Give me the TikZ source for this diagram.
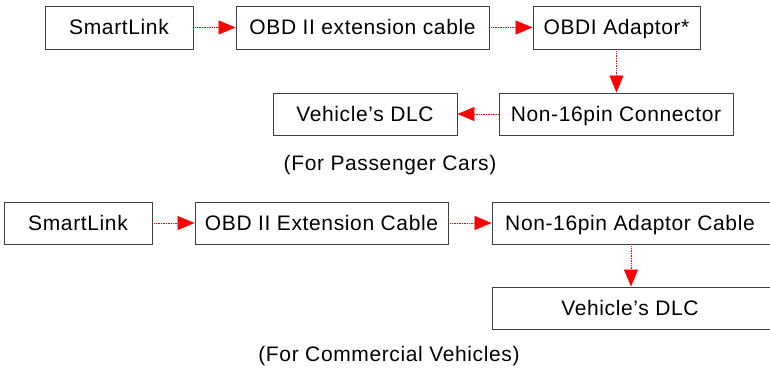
\documentclass[tikz,border=0pt]{standalone}
\usepackage{fontspec}
\setmainfont{Liberation Sans}[LetterSpace=3]
\usetikzlibrary{arrows.meta,positioning}
\tikzset{
  box/.style={draw=black!75, line width=0.9pt, minimum height=43pt, inner sep=0pt,
    text height=15pt, text depth=0pt, font=\fontsize{21}{25}\selectfont},
  link/.style={red, densely dotted, line width=0.7pt, -{Triangle[length=17pt,width=14pt]}},
  caption/.style={font=\fontsize{21}{25}\selectfont},
}
\begin{document}
\begin{tikzpicture}[x=1pt,y=-1pt]
    \useasboundingbox (0,0) rectangle (770,371);

    % ----- Passenger cars
    \node[box, minimum width=148pt] (smartA) at (119,27.5) {SmartLink};
    \node[box, minimum width=253pt] (extA) at (362.5,27.5) {OBD II extension cable};
    \node[box, minimum width=167pt] (adaptA) at (616.5,27.5) {OBDI Adaptor*};
    \node[box, minimum width=234pt, minimum height=42pt] (connA) at (616,114) {Non-16pin Connector};
    \node[box, minimum width=184pt, minimum height=42pt] (dlcA) at (365,114) {Vehicle's DLC};
    \node[caption] (captA) at (390,165) {(For Passenger Cars)};

    \draw[link] (smartA) -- (extA);
    \draw[link] (extA) -- (adaptA);
    \draw[link] (adaptA) -- (adaptA |- connA.north);
    \draw[link] (connA) -- (dlcA);

    % ----- Commercial vehicles
    \node[box, minimum width=148pt, minimum height=42pt] (smartB) at (78,223) {SmartLink};
    \node[box, minimum width=253pt, minimum height=42pt] (extB) at (321.5,223) {OBD II Extension Cable};
    \node[box, minimum width=282pt, minimum height=42pt] (adaptB) at (633,223) {\hspace*{-6pt}Non-16pin Adaptor Cable};
    \node[box, minimum width=282pt, minimum height=42pt] (dlcB) at (633,308) {\hspace*{-6pt}Vehicle's DLC};
    \node[caption] (captB) at (389,356) {(For Commercial Vehicles)};

    \draw[link] (smartB) -- (extB);
    \draw[link] (extB) -- (adaptB);
    \draw[link] (adaptB.south -| 631,0) -- (dlcB.north -| 631,0);
\end{tikzpicture}
\end{document}
